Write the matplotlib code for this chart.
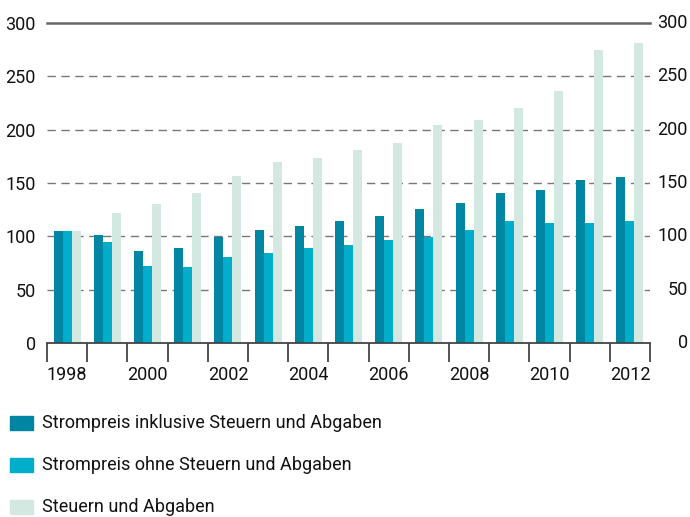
import matplotlib.pyplot as plt
from matplotlib.patches import Rectangle
import numpy as np

plt.rcParams['font.family'] = ['Liberation Sans Narrow', 'Roboto', 'DejaVu Sans']

years = list(range(1998, 2013))
inkl = [105, 101.6, 86.6, 88.8, 99.4, 105.6, 110, 114, 118.8, 125.6, 131.6, 140.6, 143.4, 152.5, 155.3]
ohne = [105, 94.7, 72.2, 71.6, 80.3, 84.4, 88.8, 92.2, 96.3, 99.7, 105.9, 114.7, 112.8, 112.2, 114]
steuern = [105, 121.6, 130.6, 140.3, 156.3, 169.4, 173.8, 180.6, 187.2, 204.7, 209, 220, 236.6, 275, 281.3]
labels = ['Strompreis inklusive Steuern und Abgaben',
          'Strompreis ohne Steuern und Abgaben',
          'Steuern und Abgaben']
colors = ['#0085a3', '#00aecb', '#d3e8e0']
yticks = [0, 50, 100, 150, 200, 250, 300]

fig = plt.figure(figsize=(6.9, 5.17), dpi=100)
ax = fig.add_axes([47/690, 174/517, 603/690, 320/517])

x = np.arange(len(years))
w = 0.225
for i, (vals, c) in enumerate(zip([inkl, ohne, steuern], colors)):
    ax.bar(x + (i - 1) * w, vals, w, color=c, zorder=2)

ax.set_xlim(-0.5, len(years) - 0.5)
ax.set_ylim(0, 300)

# gridlines
for t in yticks[1:-1]:
    ax.axhline(t, color='#777777', lw=1, ls=(0, (6, 4)), zorder=1)
ax.axhline(300, color='#666666', lw=1.8, zorder=1, clip_on=False)

for s in ['top', 'left', 'right']:
    ax.spines[s].set_visible(False)
ax.spines['bottom'].set_color('#444444')
ax.spines['bottom'].set_linewidth(1.3)

ax.set_yticks(yticks)
ax.set_yticklabels([str(t) for t in yticks])
ax.tick_params(axis='y', length=0, labelsize=13, pad=8, colors='#111111')
# right-hand labels, right aligned at the figure edge
for t in yticks:
    ax.text(1 + 38/603, t, str(t), transform=ax.get_yaxis_transform(),
            ha='right', va='center', fontsize=13, color='#111111')

ax.set_xticks(np.arange(len(years) + 1) - 0.5)
ax.set_xticklabels([])
ax.tick_params(axis='x', length=14, width=1.3, color='#444444', direction='out')
for xi, yr in zip(x, years):
    if yr % 2 == 0:
        ax.text(xi, -30, str(yr), ha='center', va='center', fontsize=13, color='#111111')

# legend
for j, (lab, c) in enumerate(zip(labels, colors)):
    yc = 1 - (423 + 42 * j) / 517
    fig.add_artist(Rectangle((10/690, yc - 7/517), 23/690, 14/517, color=c,
                             transform=fig.transFigure))
    fig.text(42/690, yc, lab, fontsize=13, va='center', ha='left', color='#111111')

fig.savefig('out.png', dpi=100)
